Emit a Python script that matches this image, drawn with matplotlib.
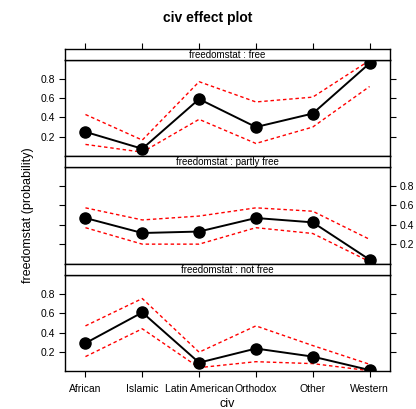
import matplotlib
matplotlib.use("Agg")
import matplotlib.pyplot as plt
import numpy as np

plt.rcParams['font.family'] = ['Liberation Sans', 'DejaVu Sans']

civ = ["African", "Islamic", "Latin American", "Orthodox", "Other", "Western"]
levels = ["free", "partly free", "not free"]

# fitted probability and confidence bounds, per freedomstat level
fit_free = [0.25, 0.075, 0.59, 0.30, 0.44, 0.96]
upper_free = [0.43, 0.165, 0.77, 0.56, 0.61, 0.99]
lower_free = [0.12, 0.04, 0.38, 0.13, 0.30, 0.72]

fit_partly = [0.47, 0.315, 0.33, 0.47, 0.425, 0.04]
upper_partly = [0.575, 0.45, 0.49, 0.575, 0.54, 0.25]
lower_partly = [0.37, 0.20, 0.20, 0.37, 0.31, 0.02]

fit_not = [0.29, 0.61, 0.087, 0.234, 0.15, 0.01]
upper_not = [0.47, 0.755, 0.196, 0.47, 0.265, 0.07]
lower_not = [0.15, 0.44, 0.035, 0.097, 0.077, 0.003]

fits = [fit_free, fit_partly, fit_not]
uppers = [upper_free, upper_partly, upper_not]
lowers = [lower_free, lower_partly, lower_not]

W, H = 416, 409
fig = plt.figure(figsize=(W / 100, H / 100), dpi=100)

def box(x0, y0, x1, y1):
    # pixel box (top-left origin) -> figure fraction rect
    return [x0 / W, 1 - y1 / H, (x1 - x0) / W, (y1 - y0) / H]

left, right = 65, 390
panels = [(48.5, 59.5, 156), (155.7, 166.7, 263.5), (264, 275, 371)]
x = np.arange(1, len(civ) + 1)
yt = [0.2, 0.4, 0.6, 0.8]

for i, (s0, s1, p1) in enumerate(panels):
    ax = fig.add_axes(box(left, s1, right, p1))
    ax.plot(x, uppers[i], color="red", ls=(0, (2.5, 2)), lw=1)
    ax.plot(x, lowers[i], color="red", ls=(0, (2.5, 2)), lw=1)
    ax.plot(x, fits[i], color="black", lw=1.4, marker="o", ms=8, zorder=3)
    ax.set_xlim(0.64, 6.36)
    ax.set_ylim(0.0, 1.0)
    ax.set_yticks(yt)
    ax.set_yticklabels([f"{v:.1f}" for v in yt])
    ax.tick_params(direction="out", length=4, width=0.8, labelsize=7.5, pad=3)
    ax.set_xticks(x)
    if i == 2:
        ax.set_xticklabels(civ)
        ax.tick_params(axis="x", pad=5)
    else:
        ax.tick_params(axis="x", bottom=False, labelbottom=False)
    if i == 1:
        ax.tick_params(axis="y", left=True, labelleft=False, right=True, labelright=True)
    else:
        ax.tick_params(axis="y", left=True, labelleft=True, right=True, labelright=False)
    for sp in ax.spines.values():
        sp.set_linewidth(1.0)

    sax = fig.add_axes(box(left, s0, right, s1))
    sax.set_xlim(0.64, 6.36)
    sax.set_yticks([])
    sax.text(0.5, 0.45, "freedomstat : " + levels[i], ha="center", va="center",
             fontsize=7, transform=sax.transAxes)
    if i == 0:
        sax.set_xticks(x)
        sax.tick_params(axis="x", bottom=False, labelbottom=False, top=True,
                        labeltop=False, direction="out", length=4, width=0.8)
    else:
        sax.set_xticks([])
    for sp in sax.spines.values():
        sp.set_linewidth(1.0)

fig.text(208 / W, 1 - 18 / H, "civ effect plot", ha="center", va="center",
         fontsize=10, fontweight="bold")
fig.text(227 / W, 1 - 404 / H, "civ", ha="center", va="center", fontsize=9)
fig.text(28 / W, 1 - 215 / H, "freedomstat (probability)", ha="center", va="center",
         rotation=90, fontsize=9)

fig.savefig("out.png", dpi=100)
